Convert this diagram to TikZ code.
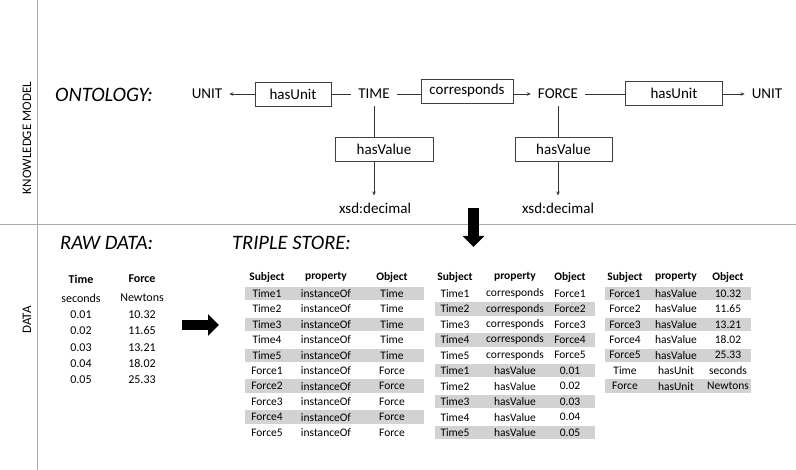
\documentclass[tikz,border=0pt]{standalone}
\usepackage{fontspec}
\setmainfont{Carlito}
\usetikzlibrary{arrows.meta}

\definecolor{rowgray}{RGB}{210,210,210}
\definecolor{rulegray}{RGB}{170,170,170}

\begin{document}
\begin{tikzpicture}[x=1pt,y=-1pt,
    >={Stealth[length=4pt,width=3.5pt]},
    title/.style={font=\fontsize{20.5}{24}\selectfont\itshape,anchor=west,inner sep=0pt},
    side/.style={rotate=90,font=\fontsize{13}{15}\selectfont},
    cls/.style={font=\fontsize{15}{18}\selectfont,inner sep=7pt},
    rel/.style={draw=black!75,line width=0.8pt,minimum height=24pt,inner sep=0pt,font=\fontsize{15}{18}\selectfont},
    raw/.style={font=\fontsize{12}{14}\selectfont,inner sep=0pt},
    rawhdr/.style={font=\fontsize{12}{14}\selectfont\bfseries,inner sep=0pt},
    cell/.style={font=\fontsize{11.5}{13}\selectfont,inner sep=0pt},
    hdr/.style={font=\fontsize{11.5}{13}\selectfont\bfseries,inner sep=0pt},
    link/.style={line width=0.8pt,black!80},
    bigarrow/.style={line width=#1,-{Triangle[length=11pt,width=21pt]}}]
  \useasboundingbox (0,0) rectangle (796,470);

  % frame
  \draw[rulegray,line width=0.8pt] (37,0) -- (37,470);
  \draw[rulegray,line width=0.8pt] (0,224.5) -- (796,224.5);
  \node[side] (km) at (27,138) {KNOWLEDGE MODEL};
  \node[side] (dt) at (27,320) {DATA};

  % ontology
  \node[title] (onto) at (55,95) {ONTOLOGY:};
  \node[cls] (unitL) at (207,94) {UNIT};
  \node[rel,minimum width=76pt] (unitT) at (293,94) {hasUnit};
  \node[cls] (time) at (374,94) {TIME};
  \node[rel,minimum width=92pt] (corr) at (467,91) {corresponds};
  \node[cls] (force) at (558,94) {FORCE};
  \node[rel,minimum width=97pt] (unitF) at (674,93) {hasUnit};
  \node[cls] (unitR) at (767,94) {UNIT};
  \node[rel,minimum width=98pt] (valT) at (384,149) {hasValue};
  \node[rel,minimum width=97pt] (valF) at (563.5,149) {hasValue};
  \node[cls,inner sep=0pt] (decT) at (375,208) {xsd:decimal};
  \node[cls,inner sep=0pt] (decF) at (558,208) {xsd:decimal};

  \draw[link,->] (unitT.west) -- (unitL.east);
  \draw[link] (unitT.east) -- (time.west);
  \draw[link] (time.east) -- (time.east -| corr.west);
  \draw[link,->] (force.west -| corr.east) -- (force.west);
  \draw[link] (force.east) -- (force.east -| unitF.west);
  \draw[link,->] (unitF.east |- unitR.west) -- (unitR.west);
  \draw[link] (time.south) -- (time.south |- valT.north);
  \draw[link,->] (time.south |- valT.south) -- ++(0,34);
  \draw[link] (force.south) -- (force.south |- valF.north);
  \draw[link,->] (force.south |- valF.south) -- ++(0,34);

  % big arrows
  \coordinate (dnA) at (473.5,208);
  \coordinate (dnB) at (473.5,247);
  \draw[bigarrow=11pt] (dnA) -- (dnB);
  \coordinate (rtA) at (182,325);
  \coordinate (rtB) at (219,325);
  \draw[bigarrow=10pt] (rtA) -- (rtB);

  % raw data
  \node[title] (rawt) at (60,243) {RAW DATA:};
  \node[rawhdr] (rawT) at (81,279) {Time};
  \node[rawhdr] (rawF) at (142,279) {Force};
  \node[raw] (rawTu) at (81,298) {seconds};
  \node[raw] (rawFu) at (142,298) {Newtons};
  \foreach \t/\f [count=\i] in {0.01/10.32,0.02/11.65,0.03/13.21,0.04/18.02,0.05/25.33}{
    \node[raw] (rawT-\i) at (81,{298+\i*16.4}) {\t};
    \node[raw] (rawF-\i) at (142,{298+\i*16.4}) {\f};
  }

  % triple store
  \node[title] (store) at (232,243) {TRIPLE STORE:};

  \node[hdr] (ta-s) at (267,277) {Subject};
  \node[hdr] (ta-p) at (326,277) {property};
  \node[hdr] (ta-o) at (392,277) {Object};
  \foreach \s/\p/\o [count=\i] in {Time1/instanceOf/Time,Time2/instanceOf/Time,
      Time3/instanceOf/Time,Time4/instanceOf/Time,Time5/instanceOf/Time,
      Force1/instanceOf/Force,Force2/instanceOf/Force,Force3/instanceOf/Force,
      Force4/instanceOf/Force,Force5/instanceOf/Force}{
    \pgfmathsetmacro\y{293.5+(\i-1)*15.45}
    \ifodd\i \fill[rowgray] ({245},{\y-6.75}) rectangle ({424},{\y+6.75}); \fi
    \node[cell] (ta-s-\i) at (267,\y) {\s};
    \node[cell] (ta-p-\i) at (326,\y) {\p};
    \node[cell] (ta-o-\i) at (392,\y) {\o};
  }

  \node[hdr] (tb-s) at (455,277) {Subject};
  \node[hdr] (tb-p) at (515,277) {property};
  \node[hdr] (tb-o) at (570,277) {Object};
  \foreach \s/\p/\o [count=\i] in {Time1/corresponds/Force1,Time2/corresponds/Force2,
      Time3/corresponds/Force3,Time4/corresponds/Force4,Time5/corresponds/Force5,
      Time1/hasValue/0.01,Time2/hasValue/0.02,Time3/hasValue/0.03,
      Time4/hasValue/0.04,Time5/hasValue/0.05}{
    \pgfmathsetmacro\y{293.5+(\i-1)*15.45}
    \ifodd\i\else \fill[rowgray] ({435},{\y-6.75}) rectangle ({595},{\y+6.75}); \fi
    \node[cell] (tb-s-\i) at (455,\y) {\s};
    \node[cell] (tb-p-\i) at (515,\y) {\p};
    \node[cell] (tb-o-\i) at (570,\y) {\o};
  }

  \node[hdr] (tc-s) at (625,277) {Subject};
  \node[hdr] (tc-p) at (676,277) {property};
  \node[hdr] (tc-o) at (728,277) {Object};
  \foreach \s/\p/\o [count=\i] in {Force1/hasValue/10.32,Force2/hasValue/11.65,
      Force3/hasValue/13.21,Force4/hasValue/18.02,Force5/hasValue/25.33,
      Time/hasUnit/seconds,Force/hasUnit/Newtons}{
    \pgfmathsetmacro\y{293.5+(\i-1)*15.45}
    \ifodd\i \fill[rowgray] ({605},{\y-6.75}) rectangle ({751},{\y+6.75}); \fi
    \node[cell] (tc-s-\i) at (625,\y) {\s};
    \node[cell] (tc-p-\i) at (676,\y) {\p};
    \node[cell] (tc-o-\i) at (728,\y) {\o};
  }
\end{tikzpicture}
\end{document}
